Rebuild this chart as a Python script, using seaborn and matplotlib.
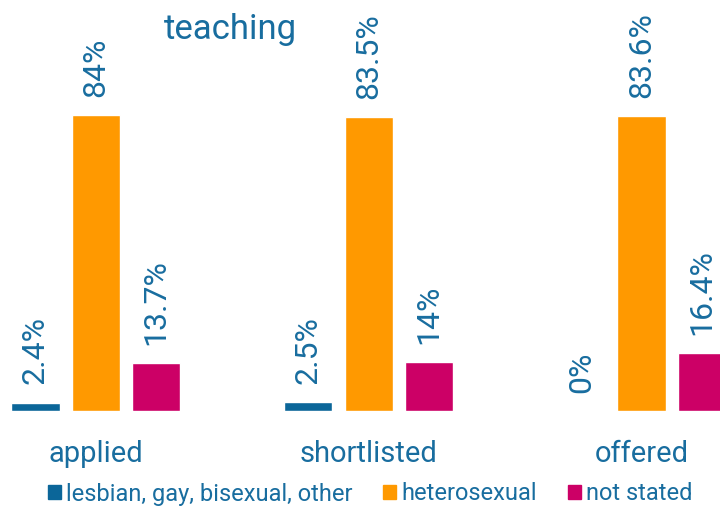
import matplotlib
matplotlib.use("Agg")
import matplotlib.pyplot as plt
import seaborn as sns
import pandas as pd

stages = ["applied", "shortlisted", "offered"]
groups = ["lesbian, gay, bisexual, other", "heterosexual", "not stated"]
lgbo = [2.4, 2.5, 0]
hetero = [84, 83.5, 83.6]
not_stated = [13.7, 14, 16.4]
title = "teaching"

colors = ["#0b6699", "#ff9900", "#cc0066"]
txt = "#186d9f"

df = pd.DataFrame({
    "stage": stages * 3,
    "group": [g for g in groups for _ in stages],
    "pct": lgbo + hetero + not_stated,
})

sns.set_style("white")
plt.rcParams["font.family"] = ["Roboto", "DejaVu Sans"]

fig = plt.figure(figsize=(7.2, 5.08), dpi=100)
ax = fig.add_axes([0, 97 / 508, 1, 411 / 508])

sns.barplot(data=df, x="stage", y="pct", hue="group", order=stages, hue_order=groups,
            palette=colors, width=0.66, gap=0.2, saturation=1, ax=ax, legend=False)

# rotated percentage labels above each bar
for cont in ax.containers:
    labs = [f"{b.get_height():g}%" for b in cont]
    ax.bar_label(cont, labels=labs, rotation=90, padding=13, fontsize=23,
                 color=txt)

ax.set_xlim(-0.35, 2.2875)
ax.set_ylim(0, 116.6)
ax.set_xlabel("")
ax.set_ylabel("")
ax.set_yticks([])
ax.tick_params(axis="x", length=0, pad=21, labelsize=21, labelcolor=txt)
for s in ax.spines.values():
    s.set_visible(False)

fig.text(230 / 720, 1 - 39 / 508, title, ha="center", va="baseline",
         fontsize=25, color=txt)

handles = [plt.Rectangle((0, 0), 1, 1, color=c) for c in colors]
leg = fig.legend(handles, groups, loc="center", bbox_to_anchor=(370 / 720, 1 - 494 / 508),
                 ncol=3, frameon=False, fontsize=17, handlelength=0.55, handleheight=0.55,
                 handletextpad=0.22, columnspacing=1.3, borderpad=0, borderaxespad=0)
for t in leg.get_texts():
    t.set_color(txt)

fig.savefig("out.png", dpi=100)
